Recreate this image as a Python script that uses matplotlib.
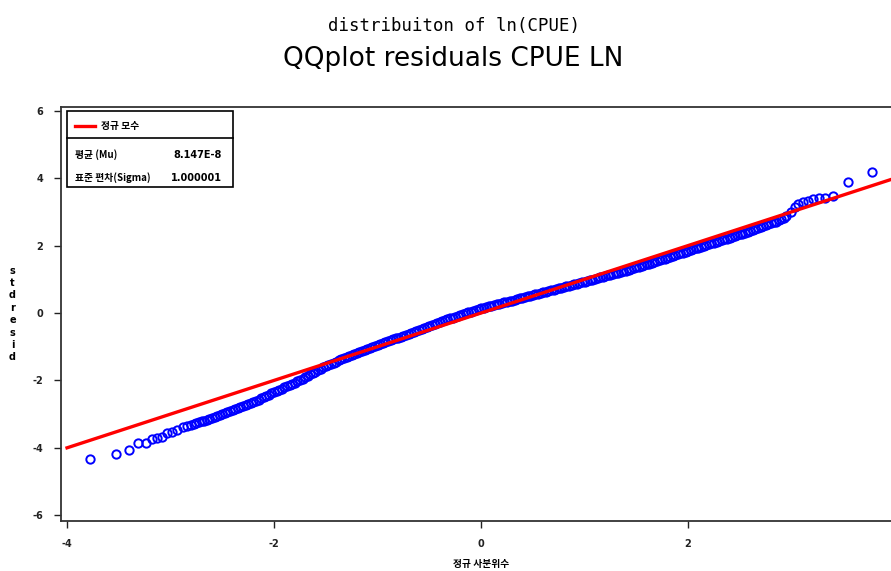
import matplotlib
matplotlib.use("Agg")
import matplotlib.pyplot as plt
from matplotlib.patches import Rectangle
from matplotlib.lines import Line2D

# lower tail points (normal quantile, standardized residual)
lo_q = [-3.78, -3.53, -3.40, -3.31, -3.24, -3.18, -3.13, -3.08, -3.03, -2.99,
        -2.94, -2.88, -2.84]
lo_resid = [-4.33, -4.18, -4.07, -3.86, -3.86, -3.74, -3.71, -3.68, -3.56, -3.53,
            -3.47, -3.38, -3.35]

# dense middle band
mid_q = [-2.800, -2.775, -2.750, -2.725, -2.700, -2.675, -2.650, -2.625, -2.600, -2.575,
         -2.550, -2.525, -2.500, -2.475, -2.450, -2.425, -2.400, -2.375, -2.350, -2.325,
         -2.300, -2.275, -2.250, -2.225, -2.200, -2.175, -2.150, -2.125, -2.100, -2.075,
         -2.050, -2.025, -2.000, -1.975, -1.950, -1.925, -1.900, -1.875, -1.850, -1.825,
         -1.800, -1.775, -1.750, -1.725, -1.700, -1.675, -1.650, -1.625, -1.600, -1.575,
         -1.550, -1.525, -1.500, -1.475, -1.450, -1.425, -1.400, -1.375, -1.350, -1.325,
         -1.300, -1.275, -1.250, -1.225, -1.200, -1.175, -1.150, -1.125, -1.100, -1.075,
         -1.050, -1.025, -1.000, -0.975, -0.950, -0.925, -0.900, -0.875, -0.850, -0.825,
         -0.800, -0.775, -0.750, -0.725, -0.700, -0.675, -0.650, -0.625, -0.600, -0.575,
         -0.550, -0.525, -0.500, -0.475, -0.450, -0.425, -0.400, -0.375, -0.350, -0.325,
         -0.300, -0.275, -0.250, -0.225, -0.200, -0.175, -0.150, -0.125, -0.100, -0.075,
         -0.050, -0.025, 0.000, 0.025, 0.050, 0.075, 0.100, 0.125, 0.150, 0.175,
         0.200, 0.225, 0.250, 0.275, 0.300, 0.325, 0.350, 0.375, 0.400, 0.425,
         0.450, 0.475, 0.500, 0.525, 0.550, 0.575, 0.600, 0.625, 0.650, 0.675,
         0.700, 0.725, 0.750, 0.775, 0.800, 0.825, 0.850, 0.875, 0.900, 0.925,
         0.950, 0.975, 1.000, 1.025, 1.050, 1.075, 1.100, 1.125, 1.150, 1.175,
         1.200, 1.225, 1.250, 1.275, 1.300, 1.325, 1.350, 1.375, 1.400, 1.425,
         1.450, 1.475, 1.500, 1.525, 1.550, 1.575, 1.600, 1.625, 1.650, 1.675,
         1.700, 1.725, 1.750, 1.775, 1.800, 1.825, 1.850, 1.875, 1.900, 1.925,
         1.950, 1.975, 2.000, 2.025, 2.050, 2.075, 2.100, 2.125, 2.150, 2.175,
         2.200, 2.225, 2.250, 2.275, 2.300, 2.325, 2.350, 2.375, 2.400, 2.425,
         2.450, 2.475, 2.500, 2.525, 2.550, 2.575, 2.600, 2.625, 2.650, 2.675,
         2.700, 2.725, 2.750, 2.775, 2.800, 2.825, 2.850, 2.875, 2.900, 2.925,
         2.950]
mid_resid = [-3.31, -3.285, -3.26, -3.235, -3.21, -3.19, -3.17, -3.145, -3.12, -3.09,
             -3.06, -3.035, -3.01, -2.98, -2.95, -2.92, -2.89, -2.86, -2.83, -2.795,
             -2.76, -2.73, -2.70, -2.67, -2.64, -2.605, -2.57, -2.535, -2.50, -2.46,
             -2.42, -2.385, -2.35, -2.315, -2.28, -2.245, -2.21, -2.175, -2.14, -2.105,
             -2.07, -2.03, -1.99, -1.945, -1.90, -1.86, -1.82, -1.78, -1.74, -1.695,
             -1.65, -1.615, -1.58, -1.545, -1.51, -1.475, -1.44, -1.405, -1.37, -1.335,
             -1.30, -1.27, -1.24, -1.21, -1.18, -1.15, -1.12, -1.09, -1.06, -1.03,
             -1.00, -0.975, -0.95, -0.92, -0.89, -0.865, -0.84, -0.81, -0.78, -0.755,
             -0.73, -0.70, -0.67, -0.645, -0.62, -0.59, -0.56, -0.53, -0.50, -0.475,
             -0.45, -0.42, -0.39, -0.36, -0.33, -0.305, -0.28, -0.25, -0.22, -0.19,
             -0.16, -0.135, -0.11, -0.08, -0.05, -0.025, 0.00, 0.02, 0.04, 0.065,
             0.09, 0.115, 0.14, 0.16, 0.18, 0.20, 0.22, 0.24, 0.26, 0.28,
             0.30, 0.315, 0.33, 0.35, 0.37, 0.39, 0.41, 0.43, 0.45, 0.47,
             0.49, 0.51, 0.53, 0.55, 0.57, 0.59, 0.61, 0.63, 0.65, 0.67,
             0.69, 0.71, 0.73, 0.75, 0.77, 0.79, 0.81, 0.83, 0.85, 0.87,
             0.89, 0.91, 0.93, 0.95, 0.97, 0.99, 1.01, 1.035, 1.06, 1.08,
             1.10, 1.12, 1.14, 1.16, 1.18, 1.20, 1.22, 1.24, 1.26, 1.28,
             1.30, 1.325, 1.35, 1.37, 1.39, 1.415, 1.44, 1.465, 1.49, 1.515,
             1.54, 1.565, 1.59, 1.615, 1.64, 1.665, 1.69, 1.715, 1.74, 1.765,
             1.79, 1.815, 1.84, 1.865, 1.89, 1.915, 1.94, 1.965, 1.99, 2.015,
             2.04, 2.065, 2.09, 2.11, 2.13, 2.155, 2.18, 2.205, 2.23, 2.255,
             2.28, 2.305, 2.33, 2.355, 2.38, 2.405, 2.43, 2.46, 2.49, 2.515,
             2.54, 2.57, 2.60, 2.63, 2.66, 2.685, 2.71, 2.745, 2.78, 2.83,
             2.88]

# upper tail points
hi_q = [2.99, 3.03, 3.06, 3.11, 3.16, 3.21, 3.26, 3.32, 3.40, 3.54, 3.78]
hi_resid = [3.00, 3.15, 3.23, 3.29, 3.32, 3.38, 3.41, 3.41, 3.47, 3.89, 4.18]

# fitted normal reference line (mu ~ 0, sigma ~ 1)
ref_x = [-4.0, 4.0]
ref_y = [-4.0, 4.0]

xticks = [-4, -2, 0, 2]
yticks = [-6, -4, -2, 0, 2, 4, 6]

mu_text = "8.147E-8"
sigma_text = "1.000001"

cjk = ["Noto Sans CJK KR", "DejaVu Sans"]

fig = plt.figure(figsize=(8.91, 5.71), dpi=100)
ax = fig.add_axes([0.0685, 0.0876, 0.9315, 0.725])

pt_style = dict(linestyle="none", marker="o", markersize=6,
                markerfacecolor="none", markeredgecolor="#0000ff",
                markeredgewidth=1.4, zorder=2)
ax.plot(lo_q, lo_resid, **pt_style)
ax.plot(mid_q, mid_resid, **pt_style)
ax.plot(hi_q, hi_resid, **pt_style)
ax.plot(ref_x, ref_y, color="#ff0000", linewidth=2.4, zorder=3)

ax.set_xlim(-4.058, 3.96)
ax.set_ylim(-6.17, 6.11)
ax.set_xticks(xticks)
ax.set_yticks(yticks)
ax.set_xticklabels([str(t) for t in xticks], fontsize=7, fontweight="bold",
                   family="DejaVu Sans Condensed")
ax.set_yticklabels([str(t) for t in yticks], fontsize=7, fontweight="bold",
                   family="DejaVu Sans Condensed")
ax.tick_params(direction="out", length=5, width=1.0, colors="#222222", pad=8)
ax.spines["right"].set_visible(False)
for s in ["left", "top", "bottom"]:
    ax.spines[s].set_linewidth(1.3)
    ax.spines[s].set_color("#333333")

# legend box drawn by hand
tr = ax.transAxes
ax.add_patch(Rectangle((0.0072, 0.807), 0.200, 0.183, transform=tr,
                       fill=False, edgecolor="black", linewidth=1.2, zorder=5))
ax.add_line(Line2D([0.0072, 0.2072], [0.925, 0.925], transform=tr,
                   color="black", linewidth=1.2, zorder=5))
ax.add_line(Line2D([0.017, 0.041], [0.954, 0.954], transform=tr,
                   color="#ff0000", linewidth=2.4, zorder=5))
ax.text(0.048, 0.954, "정규 모수", transform=tr, fontsize=7, fontweight="bold",
        family=cjk, va="center", ha="left")
ax.text(0.017, 0.884, "평균 (Mu)", transform=tr, fontsize=7, fontweight="bold",
        family=cjk, va="center", ha="left")
ax.text(0.194, 0.884, mu_text, transform=tr, fontsize=7, fontweight="bold",
        family="DejaVu Sans Condensed", va="center", ha="right")
ax.text(0.017, 0.829, "표준 편차(Sigma)", transform=tr, fontsize=7,
        fontweight="bold", family=cjk, va="center", ha="left")
ax.text(0.194, 0.829, sigma_text, transform=tr, fontsize=7, fontweight="bold",
        family="DejaVu Sans Condensed", va="center", ha="right")

# titles
fig.text(0.509, 0.9457, "distribuiton of ln(CPUE)", ha="center", va="baseline",
         fontsize=12.5, family="DejaVu Sans Mono")
fig.text(0.509, 0.8844, "QQplot residuals CPUE LN", ha="center", va="baseline",
         fontsize=19, family="DejaVu Sans")

# axis labels
fig.text(0.014, 0.45, "\n".join("stdresid"), ha="center", va="center",
         fontsize=7, fontweight="bold", linespacing=1.3)
fig.text(0.54, 0.012, "정규 사분위수", ha="center", va="center",
         fontsize=7, fontweight="bold", family=cjk)

fig.savefig("out.png", dpi=100)
